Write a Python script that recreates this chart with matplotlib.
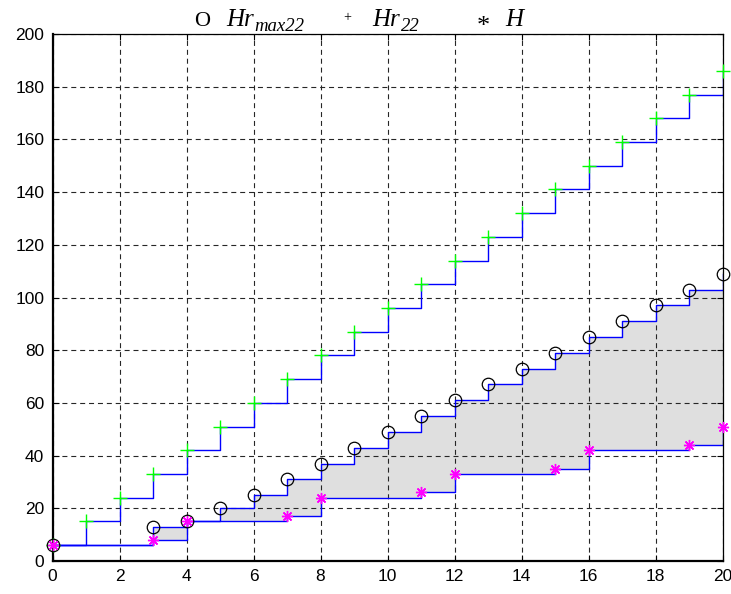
import numpy as np
import matplotlib
matplotlib.use('Agg')
import matplotlib.pyplot as plt

# --- data ---
x_hr22 = list(range(21))
hr22 = [6, 15, 24, 33, 42, 51, 60, 69, 78, 87, 96, 105, 114, 123, 132, 141, 150, 159, 168, 177, 186]

x_hrmax = [0, 3, 4, 5, 6, 7, 8, 9, 10, 11, 12, 13, 14, 15, 16, 17, 18, 19, 20]
hrmax22 = [6, 13, 15, 20, 25, 31, 37, 43, 49, 55, 61, 67, 73, 79, 85, 91, 97, 103, 109]

x_h = [0, 3, 4, 7, 8, 11, 12, 15, 16, 19, 20]
h = [6, 8, 15, 17, 24, 26, 33, 35, 42, 44, 51]

x_ticks = list(range(0, 21, 2))
y_ticks = list(range(0, 201, 20))

plt.rcParams['font.family'] = ['Liberation Sans', 'DejaVu Sans']

W, H = 731, 594
fig = plt.figure(figsize=(W / 100, H / 100), dpi=100)
ax = fig.add_axes([52.5 / W, 1 - 561 / H, 670 / W, 527 / H])

# grey band between the upper (Hr_max22) and lower (H) staircases
grid_x = np.arange(0, 21)
upper = np.array(hrmax22)[np.searchsorted(x_hrmax, grid_x, side='right') - 1]
lower = np.array(h)[np.searchsorted(x_h, grid_x, side='right') - 1]
ax.fill_between(grid_x, lower, upper, step='post', color='#dfdfdf', lw=0, zorder=1)

# staircases
ax.step(x_hr22, hr22, where='post', color='#0000ff', lw=1.0, zorder=2)
ax.step(x_hrmax, hrmax22, where='post', color='#0000ff', lw=1.0, zorder=2)
ax.step(x_h, h, where='post', color='#0000ff', lw=1.0, zorder=2)

# markers
ax.plot(x_hr22, hr22, ls='none', marker='+', ms=10, mew=1.0, color='#00ff00',
        zorder=3, clip_on=False)
ax.plot(x_hrmax, hrmax22, ls='none', marker='o', ms=9, mew=0.9, mfc='none', mec='black',
        zorder=3, clip_on=False)
ax.plot(x_h, h, ls='none', marker=(8, 2, 0), ms=8, mew=1.0, color='#ff00ff',
        zorder=3, clip_on=False)

ax.set_xlim(0, 20)
ax.set_ylim(0, 200)
ax.set_xticks(x_ticks)
ax.set_yticks(y_ticks)
ax.tick_params(direction='in', length=4, width=0.8, labelsize=12.5, top=True, right=True, pad=6)
ax.grid(True, color='0.15', lw=0.8, ls=(0, (4.5, 3.5)))

for side in ['bottom', 'left']:
    ax.spines[side].set_linewidth(1.6)
for side in ['top', 'right']:
    ax.spines[side].set_linewidth(0.9)

# text legend above the axes (serif, like the original)
serif = 'Liberation Serif'
base = 1 - 26 / H
renderer = fig.canvas.get_renderer()


def label_with_sub(x_px, main, sub):
    t = fig.text(x_px / W, base, main, fontsize=18, family=serif, style='italic',
                 ha='left', va='baseline')
    bb = t.get_window_extent(renderer)
    fig.text(bb.x1 / W + 1 / W, base - 5 / H, sub, fontsize=13.5, family=serif,
             style='italic', ha='left', va='baseline')


fig.text(202 / W, base, 'O', fontsize=16, family=serif, ha='center', va='baseline')
label_with_sub(226, 'Hr', 'max22')
fig.text(347 / W, 1 - 18 / H, '+', fontsize=10, family=serif, ha='center', va='center')
label_with_sub(372, 'Hr', '22')
fig.text(483 / W, 1 - 33 / H, '*', fontsize=19, family=serif, ha='center', va='baseline')
fig.text(505 / W, base, 'H', fontsize=18, family=serif, style='italic', ha='left', va='baseline')

fig.savefig('out.png', dpi=100)
